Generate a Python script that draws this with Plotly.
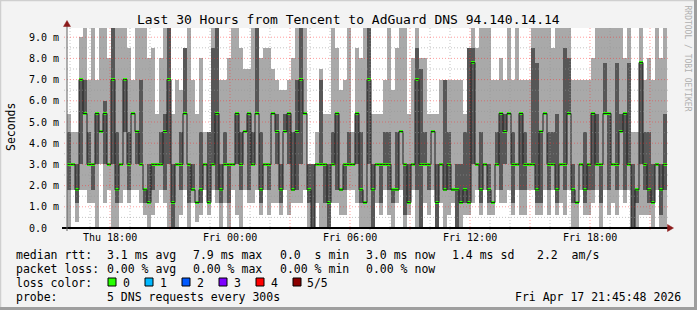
import plotly.graph_objects as go

# ---------------- data (ms), 150 steps of 12 minutes, Thu 15:51 -> Fri 21:51 ----------------
lo1 = [0.0,1.8,0.3,1.8,1.8,1.2,1.2,0.0,3.0,1.2, 1.8,0.0,0.0,1.2,1.8,1.2,1.8,1.8,1.2,0.6,
       0.0,0.6,1.2,1.8,1.2,0.0,0.0,0.0,0.6,1.8, 0.0,1.2,0.3,0.6,1.8,0.6,1.8,1.2,0.0,1.2,
       0.0,1.8,0.6,0.0,1.8,1.2,1.2,1.8,0.6,1.8, 0.6,1.2,1.2,0.6,1.8,0.6,1.2,1.2,1.2,1.8,
       0.0,0.0,1.2,0.0,0.0,0.0,1.2,1.2,0.6,0.6, 1.8,1.8,1.2,0.0,0.0,0.0,0.0,1.2,0.6,1.8,
       0.6,0.0,1.2,1.8,0.0,0.6,1.8,0.0,0.0,1.2, 0.6,1.8,0.0,1.2,0.0,0.6,1.2,0.0,0.0,0.6,
       0.6,1.2,1.8,0.6,1.8,0.6,0.6,1.8,1.2,1.2, 1.8,0.6,1.8,0.6,0.6,1.8,1.8,0.6,0.6,1.8,
       0.6,1.8,0.6,1.2,0.6,1.8,0.0,0.0,1.8,0.6, 0.6,1.2,1.8,0.0,1.8,0.6,1.2,0.6,1.8,1.2,
       1.8,0.0,0.0,0.6,0.6,0.6,0.0,1.8,0.0,0.0]
lo2 = [1.8,3.0,1.2,3.0,5.4,3.0,1.8,3.0,4.55,3.0, 3.0,3.0,1.2,3.0,4.55,1.8,5.4,3.0,3.0,1.2,
       1.2,1.8,3.0,3.0,1.8,3.0,0.0,3.0,1.8,5.4, 1.2,1.8,1.2,1.2,3.0,1.2,3.0,1.8,1.2,3.0,
       1.2,3.0,3.0,1.8,4.55,1.8,3.0,5.4,1.2,3.0, 1.8,5.4,3.0,1.2,4.55,3.0,1.8,1.8,3.0,5.4,
       1.2,0.0,3.0,3.0,1.2,0.0,3.0,1.8,1.8,1.8, 3.0,3.0,3.0,1.2,1.2,3.0,0.0,3.0,1.2,3.0,
       1.8,1.2,1.8,4.55,0.6,1.2,3.0,1.8,0.0,3.0, 1.8,4.55,0.0,3.0,1.8,1.8,1.8,0.0,1.2,1.2,
       1.2,3.0,3.0,1.2,3.0,1.2,1.2,3.0,1.8,3.0, 5.4,1.2,3.0,1.8,1.8,3.0,3.0,1.2,1.2,5.4,
       1.8,3.0,1.2,3.0,1.8,5.4,1.2,1.2,3.0,1.2, 1.8,1.8,3.0,1.2,5.4,1.8,3.0,1.8,4.55,1.8,
       3.0,0.0,1.2,3.0,1.8,1.2,1.2,3.0,0.6,1.8]
med = [3.0,3.0,1.8,7.0,5.4,3.0,3.0,5.4,4.55,5.4, 3.0,7.0,1.8,3.0,7.0,3.0,5.4,4.55,3.0,1.8,
       1.2,3.0,3.0,3.0,4.55,7.0,1.2,3.0,3.0,5.4, 3.0,1.8,1.2,1.8,3.0,1.2,3.0,5.4,1.8,3.0,
       3.0,3.0,5.4,3.0,4.55,5.4,3.0,5.4,1.8,3.0, 3.0,5.4,4.55,1.8,4.55,5.4,1.8,4.55,7.0,5.4,
       1.8,0.0,3.0,3.0,3.0,1.2,3.0,5.4,1.8,3.0, 3.0,3.0,5.4,1.8,1.2,7.0,1.8,3.0,3.0,3.0,
       3.0,1.8,1.8,4.55,3.0,1.2,3.0,7.0,3.0,3.0, 3.0,4.55,1.2,3.0,1.8,3.0,1.8,1.8,1.2,1.8,
       1.2,7.8,3.0,1.8,3.0,1.8,1.2,3.0,5.4,4.55, 5.4,3.0,3.0,5.4,3.0,3.0,3.0,1.8,4.55,5.4,
       3.0,3.0,1.8,3.0,3.0,5.4,1.8,1.2,3.0,1.8, 3.0,5.4,3.0,3.0,5.4,5.4,3.0,3.0,4.55,5.4,
       3.0,0.0,1.8,7.8,3.0,1.8,1.2,3.0,1.8,3.0]
hi2 = [4.55,3.0,3.0,7.0,7.0,4.55,3.0,5.4,4.55,6.0, 3.0,10,4.55,3.0,7.0,4.55,5.4,4.55,7.0,1.8,
       3.0,3.0,3.0,4.55,5.4,10,3.0,3.0,4.55,8.5, 3.0,3.0,1.2,4.55,3.0,4.55,8.5,10,3.0,4.55,
       3.0,3.0,5.4,4.55,4.55,5.4,4.55,10,4.55,3.0, 3.0,5.4,5.4,3.0,5.4,5.4,4.55,7.0,10,5.4,
       3.0,3.0,3.0,7.0,3.0,3.0,4.55,5.4,1.8,3.0, 4.55,3.0,5.4,4.55,1.2,10,3.0,3.0,3.0,4.55,
       4.55,1.8,4.55,4.55,3.0,3.0,3.0,8.5,7.5,4.55, 3.0,4.55,3.0,3.0,7.0,4.55,1.8,3.0,3.0,4.55,
       8.5,8.5,3.0,4.55,3.0,3.0,1.2,4.55,5.4,5.4, 5.4,4.55,3.0,5.4,4.55,3.0,8.5,7.8,4.55,5.4,
       4.55,4.55,5.4,3.0,8.5,8.0,3.0,1.2,3.0,4.55, 3.0,5.4,5.4,3.0,7.8,5.4,3.0,7.8,5.4,5.4,
       7.8,3.0,1.8,7.8,4.55,4.55,3.0,3.0,3.0,5.4]
hi1 = [5.4,4.55,4.55,9.0,10,7.0,10,7.0,10,10, 8.0,10,10,10,10,8.5,7.0,10,10,10,
       8.0,8.5,5.4,8.0,10,10,5.4,7.0,6.5,8.5, 10,7.0,5.4,8.0,4.55,4.55,10,10,7.0,7.0,
       8.0,10,10,8.5,7.5,7.5,10,10,8.0,8.5, 8.5,7.5,7.0,6.5,6.5,7.0,8.0,10,10,10,
       3.0,3.0,4.55,7.5,5.4,5.4,10,8.5,6.5,7.0, 10,4.55,8.5,8.0,10,10,5.4,5.4,5.4,7.0,
       10,6.5,8.5,10,10,5.4,8.0,10,8.0,8.0, 5.4,5.4,5.4,7.0,7.0,7.0,7.0,7.0,7.0,5.4,
       8.5,10,8.5,10,10,10,7.0,7.0,8.0,7.0, 10,7.0,10,7.0,7.0,7.0,10,10,10,10,
       10,8.5,10,10,10,10,7.0,7.0,7.0,7.0, 7.0,8.0,10,10,10,10,10,10,10,8.0,
       10,4.55,4.55,10,7.0,8.0,7.0,10,8.0,10]

tick_hours = [18, 24, 30, 36, 42]
tick_labels = ["Thu 18:00", "Fri 00:00", "Fri 06:00", "Fri 12:00", "Fri 18:00"]
y_ticks = [0, 1, 2, 3, 4, 5, 6, 7, 8, 9]
loss_colors = ["#26ff00", "#00b8ff", "#0059ff", "#7e00ff", "#ff0000", "#8b0000"]
loss_labels = ["0", "1", "2", "3", "4", "5/5"]

title = "Last 30 Hours from Tencent to AdGuard DNS 94.140.14.14"
stats1 = ["median rtt:", "3.1 ms avg", "7.9 ms max", "0.0  s min", "3.0 ms now", "1.4 ms sd", "2.2  am/s"]
stats2 = ["packet loss:", "0.00 % avg", "0.00 % max", "0.00 % min", "0.00 % now"]
probe = ["probe:", "5 DNS requests every 300s"]
stamp = "Fri Apr 17 21:45:48 2026"

# ---------------- geometry ----------------
W, H = 697, 310
L, R, T, B = 67, 30, 28, 82
PW, PH = W - L - R, H - T - B
START_H, STEP_H = 15.85, 0.2
END_H = START_H + STEP_H * len(med)
YMAX = PH / 21.2

def px(x):
    return (x - L) / PW

def py(y):
    return (H - B - y) / PH

n = len(med)
xc = [START_H + STEP_H * (i + 0.5) for i in range(n)]
xs = [START_H + STEP_H * i for i in range(n)] + [END_H]

fig = go.Figure()
fig.add_trace(go.Bar(x=xc, base=lo1, y=[b - a for a, b in zip(lo1, hi1)], width=STEP_H,
                     marker=dict(color="#a9a9a9", line=dict(width=0)), hoverinfo="skip"))
fig.add_trace(go.Bar(x=xc, base=lo2, y=[b - a for a, b in zip(lo2, hi2)], width=STEP_H,
                     marker=dict(color="#575757", line=dict(width=0)), hoverinfo="skip"))
fig.add_trace(go.Scatter(x=xs, y=med + [med[-1]], mode="lines", line=dict(shape="hv", color="#202020", width=1),
                         hoverinfo="skip"))
fig.add_trace(go.Bar(x=xc, base=[m - 0.07 for m in med], y=[0.14] * n, width=STEP_H,
                     marker=dict(color=loss_colors[0], line=dict(width=0)), hoverinfo="skip"))

shapes = []
minor_c = "rgba(150,150,150,0.55)"
major_c = "rgba(255,40,40,0.45)"
# vertical grid
for h in range(16, 46):
    c = major_c if h % 3 == 0 else minor_c
    shapes.append(dict(type="line", xref="x", yref="paper", x0=h, x1=h, y0=py(230), y1=py(T),
                       line=dict(color=c, width=1, dash="1px,2px"), layer="above"))
# horizontal grid
for k in range(1, 19):
    v = k * 0.5
    c = major_c if k % 2 == 0 else minor_c
    shapes.append(dict(type="line", xref="paper", yref="y", x0=px(64), x1=px(669), y0=v, y1=v,
                       line=dict(color=c, width=1, dash="1px,2px"), layer="above"))
# axes
shapes.append(dict(type="line", xref="paper", yref="paper", x0=px(62), x1=px(669), y0=py(228), y1=py(228),
                   line=dict(color="#000000", width=2), layer="above"))
shapes.append(dict(type="line", xref="paper", yref="paper", x0=px(67), x1=px(67), y0=py(231), y1=py(24),
                   line=dict(color="#606060", width=1), layer="above"))
# arrows
def tri(pts):
    p = "M " + " L ".join(f"{px(a)},{py(b)}" for a, b in pts) + " Z"
    return dict(type="path", xref="paper", yref="paper", path=p, fillcolor="#8b1a1a",
                line=dict(color="#8b1a1a", width=0.5), layer="above")
shapes.append(tri([(667.5, 224.5), (673.5, 228), (667.5, 231.5)]))
shapes.append(tri([(63.5, 26.5), (67, 20.5), (70.5, 26.5)]))
# frame
shapes.append(dict(type="line", xref="paper", yref="paper", x0=px(0), x1=px(W), y0=py(0.5), y1=py(0.5),
                   line=dict(color="#cfcfcf", width=1.5)))
shapes.append(dict(type="line", xref="paper", yref="paper", x0=px(0.5), x1=px(0.5), y0=py(0), y1=py(H),
                   line=dict(color="#cfcfcf", width=1.5)))
shapes.append(dict(type="line", xref="paper", yref="paper", x0=px(W - 1.5), x1=px(W - 1.5), y0=py(0), y1=py(H),
                   line=dict(color="#9e9e9e", width=3)))
shapes.append(dict(type="line", xref="paper", yref="paper", x0=px(0), x1=px(W), y0=py(H - 1.5), y1=py(H - 1.5),
                   line=dict(color="#9e9e9e", width=3)))
# loss color boxes
box_x = [108, 145, 182, 219, 256, 293]
for bx, col in zip(box_x, loss_colors):
    shapes.append(dict(type="rect", xref="paper", yref="paper", x0=px(bx), x1=px(bx + 8), y0=py(286), y1=py(278),
                       fillcolor=col, line=dict(color="#000000", width=1)))

FONT = "DejaVu Sans Mono"
ann = []

def txt(x, y, s, size=11.5, anchor="left", color="#000000", angle=0, xref="paper", yref="paper"):
    ann.append(dict(xref=xref, yref=yref, x=px(x) if xref == "paper" else x, y=py(y) if yref == "paper" else y,
                    text=s.replace(" ", "\u00a0"), showarrow=False, xanchor=anchor, yanchor="middle",
                    font=dict(family=FONT, size=size, color=color), textangle=angle, borderpad=0, borderwidth=0))

txt(W / 2, 19, title, size=13, anchor="center")
txt(11, 127, "Seconds", size=11.5, anchor="center", angle=-90)
txt(687.5, 58, "RRDTOOL / TOBI OETIKER", size=8, anchor="center", color="#b0b0b0", angle=90)
for v in y_ticks:
    s = f"{v}.0 m" if v > 0 else "0.0"
    ann.append(dict(xref="paper", yref="y", x=px(28.5), y=v, text=s.replace(" ", "\u00a0"), showarrow=False,
                    xanchor="left", yanchor="middle", font=dict(family=FONT, size=10, color="#000000"),
                    borderpad=0, borderwidth=0))
for h, s in zip(tick_hours, tick_labels):
    ann.append(dict(xref="x", yref="paper", x=h, y=py(237.5), text=s.replace(" ", "\u00a0"), showarrow=False,
                    xanchor="center", yanchor="middle", font=dict(family=FONT, size=10, color="#000000"),
                    borderpad=0, borderwidth=0))

col_x = [16, 107, 193, 279.5, 365.5, 451.5, 536.5]
for x, s in zip(col_x, stats1):
    txt(x, 254.5, s)
for x, s in zip(col_x, stats2):
    txt(x, 268.5, s)
txt(16, 282.5, "loss color:")
lab_x = [123, 160, 197, 233.5, 270.5, 307]
for x, s in zip(lab_x, loss_labels):
    txt(x, 282.5, s)
txt(16, 296.5, probe[0])
txt(107, 296.5, probe[1])
txt(680.5, 296.5, stamp, anchor="right")

fig.update_layout(
    width=W, height=H, margin=dict(l=L, r=R, t=T, b=B, pad=0),
    paper_bgcolor="#f3f3f3", plot_bgcolor="#ffffff",
    barmode="overlay", bargap=0, showlegend=False,
    shapes=shapes, annotations=ann,
    xaxis=dict(range=[START_H, END_H], showgrid=False, zeroline=False, showticklabels=False, ticks="",
               fixedrange=True),
    yaxis=dict(range=[0, YMAX], showgrid=False, zeroline=False, showticklabels=False, ticks="",
               fixedrange=True),
)
fig.write_html("out.html")
